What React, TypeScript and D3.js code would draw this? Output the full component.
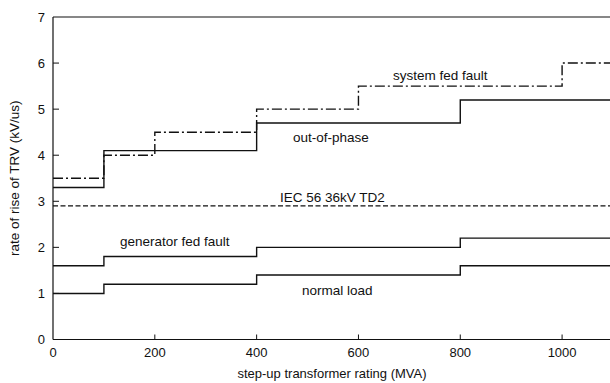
import React from "react";
import * as d3 from "d3";

const mvaTicks = [0, 200, 400, 600, 800, 1000];
const rateTicks = [0, 1, 2, 3, 4, 5, 6, 7];

const systemFedMVA = [0, 100, 200, 400, 600, 1000, 1100];
const systemFedRate = [3.5, 4.0, 4.5, 5.0, 5.5, 6.0, 6.0];

const outOfPhaseMVA = [0, 100, 400, 800, 1100];
const outOfPhaseRate = [3.3, 4.1, 4.7, 5.2, 5.2];

const iecMVA = [0, 1100];
const iecRate = [2.9, 2.9];

const generatorMVA = [0, 100, 400, 800, 1100];
const generatorRate = [1.6, 1.8, 2.0, 2.2, 2.2];

const normalMVA = [0, 100, 400, 800, 1100];
const normalRate = [1.0, 1.2, 1.4, 1.6, 1.6];

const W = 610;
const H = 383;
const FONT = "'Liberation Sans', Arial, Helvetica, sans-serif";

export default function App() {
  const x = d3.scaleLinear().domain([0, 1100]).range([53, 613]);
  const y = d3.scaleLinear().domain([0, 7]).range([339.5, 17]);

  const line = d3
    .line<[number, number]>()
    .x((d) => x(d[0]))
    .y((d) => y(d[1]))
    .curve(d3.curveStepAfter);

  const zip = (a: number[], b: number[]) => a.map((v, i) => [v, b[i]] as [number, number]);

  const series = [
    { d: zip(systemFedMVA, systemFedRate), dash: "10,3,2,3" },
    { d: zip(outOfPhaseMVA, outOfPhaseRate), dash: undefined },
    { d: zip(iecMVA, iecRate), dash: "5,2.5" },
    { d: zip(generatorMVA, generatorRate), dash: undefined },
    { d: zip(normalMVA, normalRate), dash: undefined },
  ];

  const x0 = x(0);
  const y0 = y(0);
  const yTop = y(7);

  return (
    <svg
      width={W}
      height={H}
      style={{ position: "absolute", left: 0, top: 0, background: "#fff" }}
      fontFamily={FONT}
    >
      <rect x={0} y={0} width={W} height={H} fill="#fff" />
      {/* frame */}
      <line x1={x0} x2={W} y1={yTop} y2={yTop} stroke="#111" strokeWidth={1.2} />
      <line x1={x0} x2={W} y1={y0} y2={y0} stroke="#111" strokeWidth={1.2} />
      <line x1={x0} x2={x0} y1={yTop} y2={y0} stroke="#111" strokeWidth={1.2} />

      {/* y ticks */}
      {rateTicks.map((t) => (
        <g key={"yt" + t}>
          {t > 0 && t < 7 && (
            <line x1={x0} x2={x0 + 6} y1={y(t)} y2={y(t)} stroke="#111" strokeWidth={1} />
          )}
          <text x={45} y={y(t)} dy="0.35em" textAnchor="end" fontSize={13} fill="#111">
            {t}
          </text>
        </g>
      ))}

      {/* x ticks */}
      {mvaTicks.map((t) => (
        <g key={"xt" + t}>
          {t > 0 && (
            <line x1={x(t)} x2={x(t)} y1={y0} y2={y0 - 5} stroke="#111" strokeWidth={1} />
          )}
          <text x={x(t)} y={357} textAnchor="middle" fontSize={13} fill="#111">
            {t}
          </text>
        </g>
      ))}

      {/* series */}
      {series.map((s, i) => (
        <path
          key={i}
          d={line(s.d) || ""}
          fill="none"
          stroke="#111"
          strokeWidth={1.4}
          strokeDasharray={s.dash}
        />
      ))}

      {/* labels */}
      <g fontSize={13.5} fill="#111">
        <text x={393} y={80}>system fed fault</text>
        <text x={293} y={142}>out-of-phase</text>
        <text x={280} y={202}>IEC 56 36kV TD2</text>
        <text x={120} y={246}>generator fed fault</text>
        <text x={302} y={295}>normal load</text>
      </g>

      {/* axis titles */}
      <text x={332} y={378} textAnchor="middle" fontSize={13} fill="#111">
        step-up transformer rating (MVA)
      </text>
      <text
        transform={`translate(19,${(y0 + yTop) / 2}) rotate(-90)`}
        textAnchor="middle"
        fontSize={13.5}
        fill="#111"
      >
        rate of rise of TRV (kV/us)
      </text>
    </svg>
  );
}
